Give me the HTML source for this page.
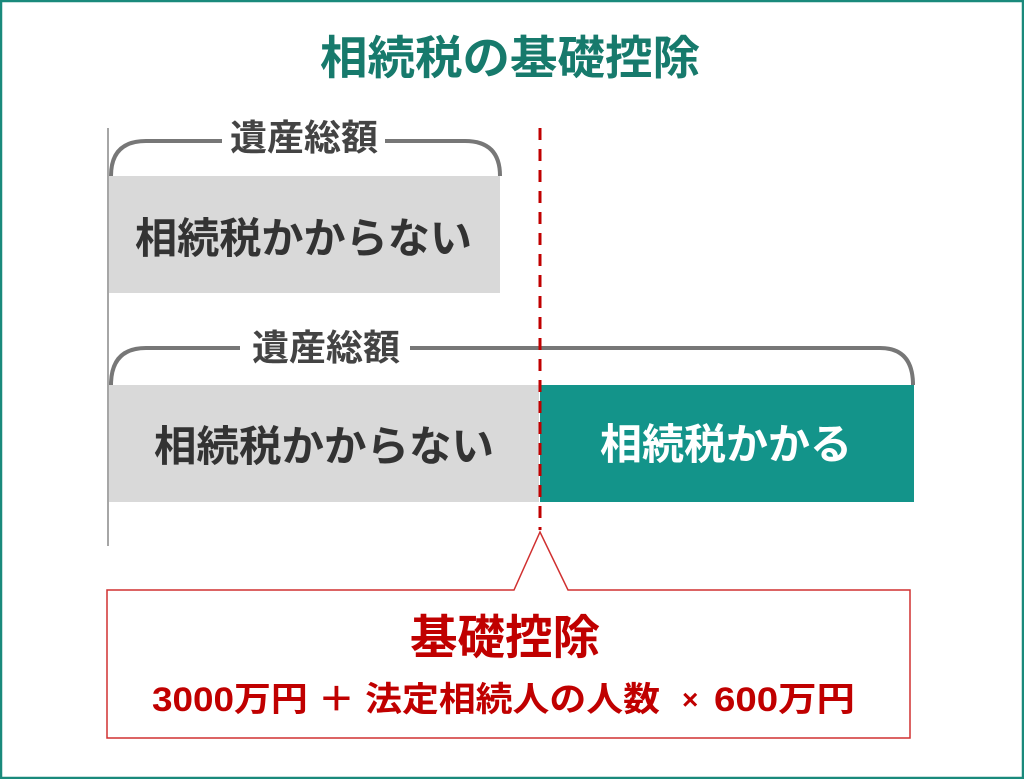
<!DOCTYPE html>
<html><head><meta charset="utf-8"><style>
html,body{margin:0;padding:0;background:#fff}
svg{display:block}
text{font-family:"Liberation Sans","Noto Sans CJK JP",sans-serif;font-weight:bold}
</style></head><body>
<svg width="1024" height="779" viewBox="0 0 1024 779">
<rect x="1" y="1" width="1022" height="777" fill="#fff" stroke="#1a8a7c" stroke-width="2.5"/>
<text x="320" y="74" textLength="380" lengthAdjust="spacingAndGlyphs" font-size="46" fill="#177a6c">相続税の基礎控除</text>
<line x1="108" y1="128" x2="108" y2="546" stroke="#888" stroke-width="1.5"/>
<path d="M111 176 Q111 141 146 141 L222 141 M385 141 L465 141 Q500 141 500 176" fill="none" stroke="#777" stroke-width="4"/>
<text x="230" y="150" textLength="148" lengthAdjust="spacingAndGlyphs" font-size="36" fill="#444">遺産総額</text>
<rect x="109" y="176" width="391" height="117" fill="#d9d9d9"/>
<text x="135" y="253" textLength="337" lengthAdjust="spacingAndGlyphs" font-size="42" fill="#333">相続税かからない</text>
<path d="M111 385 Q111 348 146 348 L240 348 M410 348 L880 348 Q913 348 913 385" fill="none" stroke="#777" stroke-width="4"/>
<text x="252" y="360" textLength="148" lengthAdjust="spacingAndGlyphs" font-size="36" fill="#444">遺産総額</text>
<rect x="109" y="385" width="430" height="117" fill="#d9d9d9"/>
<rect x="540" y="385" width="374" height="117" fill="#13948a"/>
<text x="154" y="461" textLength="340" lengthAdjust="spacingAndGlyphs" font-size="42" fill="#333">相続税かからない</text>
<text x="600" y="459" textLength="252" lengthAdjust="spacingAndGlyphs" font-size="42" fill="#fff">相続税かかる</text>
<line x1="540" y1="128" x2="540" y2="530" stroke="#c00000" stroke-width="3" stroke-dasharray="12 9"/>
<path d="M107 590 L514 590 L540 532 L568 590 L910 590 L910 738 L107 738 Z" fill="#fff" stroke="#d03030" stroke-width="1.5"/>
<text x="410" y="654" textLength="190" lengthAdjust="spacingAndGlyphs" font-size="47" fill="#c00000">基礎控除</text>
<text x="152" y="711" textLength="508" lengthAdjust="spacingAndGlyphs" font-size="34" fill="#c00000">3000万円 ＋ 法定相続人の人数</text>
<text x="682" y="709" font-size="28" fill="#c00000" font-weight="normal">×</text>
<text x="714" y="711" textLength="141" lengthAdjust="spacingAndGlyphs" font-size="34" fill="#c00000">600万円</text>
</svg>
</body></html>
